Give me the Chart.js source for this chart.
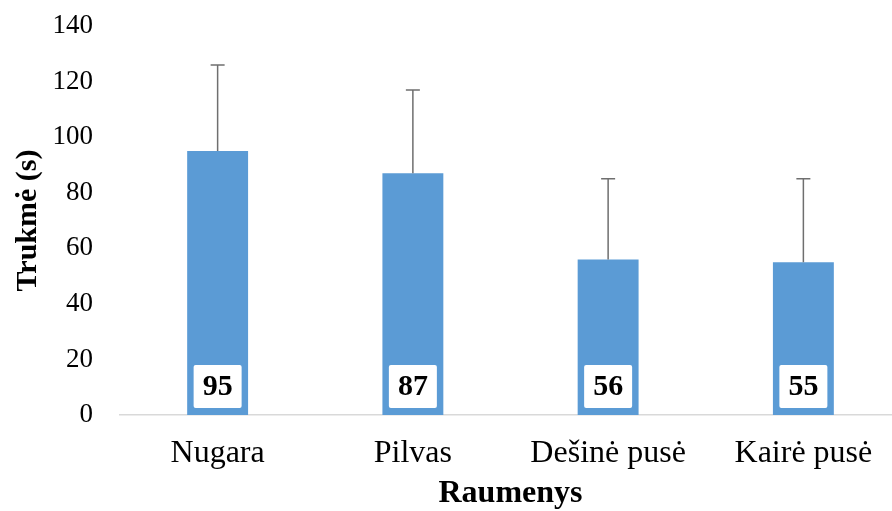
<!DOCTYPE html>
<html>
<head>
<meta charset="utf-8">
<script src="https://cdn.jsdelivr.net/npm/chart.js@4"></script>
<style>
  html, body { margin: 0; padding: 0; background: #fff; overflow: hidden; }
  #wrap { width: 902px; height: 511px; }
</style>
</head>
<body>
<div id="wrap"><canvas id="chart"></canvas></div>
<script>
const categories = ['Nugara', 'Pilvas', 'Dešinė pusė', 'Kairė pusė'];
const means = [95, 87, 56, 55];
const errors = [31, 30, 29, 30];
const yTicks = [0, 20, 40, 60, 80, 100, 120, 140];

const serif = '"Liberation Serif", "Times New Roman", serif';

// error bars + boxed value labels
const extras = {
    id: 'extras',
    afterDatasetsDraw(chart) {
        const ctx = chart.ctx;
        const yScale = chart.scales.y;
        const meta = chart.getDatasetMeta(0);
        const base = yScale.getPixelForValue(0);
        ctx.save();
        meta.data.forEach((bar, i) => {
            // error bar
            const top = yScale.getPixelForValue(means[i] + errors[i]);
            ctx.strokeStyle = '#6f6f6f';
            ctx.lineWidth = 1.5;
            ctx.beginPath();
            ctx.moveTo(bar.x, bar.y);
            ctx.lineTo(bar.x, top);
            ctx.moveTo(bar.x - 7, top);
            ctx.lineTo(bar.x + 7, top);
            ctx.stroke();

            // label box
            const w = 48, h = 43;
            const by = base - 7 - h;
            ctx.fillStyle = '#fff';
            ctx.beginPath();
            ctx.roundRect(bar.x - w / 2, by, w, h, 2);
            ctx.fill();
            ctx.fillStyle = '#000';
            ctx.font = 'bold 30px ' + serif;
            ctx.textAlign = 'center';
            ctx.textBaseline = 'middle';
            ctx.fillText(String(means[i]), bar.x, by + h / 2 + 1);
        });
        ctx.restore();
    }
};

const config = {
    type: 'bar',
    data: {
        labels: categories,
        datasets: [{
            data: means,
            backgroundColor: '#5b9bd5',
            categoryPercentage: 1,
            barPercentage: 0.312
        }]
    },
    options: {
        responsive: true,
        maintainAspectRatio: false,
        animation: false,
        layout: { padding: { top: 0, right: 1, left: 0, bottom: 0 } },
        plugins: {
            legend: { display: false },
            tooltip: { enabled: false }
        },
        scales: {
            x: {
                grid: { display: false, drawTicks: false },
                border: { display: true, color: '#d9d9d9', width: 1.5 },
                ticks: {
                    color: '#000',
                    padding: 19,
                    font: { family: serif, size: 32 }
                },
                title: {
                    display: true,
                    text: 'Raumenys',
                    color: '#000',
                    padding: { top: 0, bottom: 1 },
                    font: { family: serif, size: 32, weight: 'bold', lineHeight: 1 }
                },
                afterFit(scale) { scale.height = 96; }
            },
            y: {
                min: 0,
                max: 140,
                afterBuildTicks(scale) {
                    scale.ticks = yTicks.map(v => ({ value: v }));
                },
                grid: { display: false, drawTicks: false },
                border: { display: false },
                ticks: {
                    color: '#000',
                    padding: 27,
                    font: { family: serif, size: 27 }
                },
                title: {
                    display: true,
                    text: 'Trukmė (s)',
                    color: '#000',
                    padding: { top: 10, bottom: 0 },
                    font: { family: serif, size: 30, weight: 'bold' }
                },
                afterFit(scale) {
                    scale.width = 120;
                    scale.paddingTop = 26;
                    scale.paddingBottom = 0;
                }
            }
        }
    },
    plugins: [extras]
};

const chart = new Chart(document.getElementById('chart'), config);
</script>
</body>
</html>
